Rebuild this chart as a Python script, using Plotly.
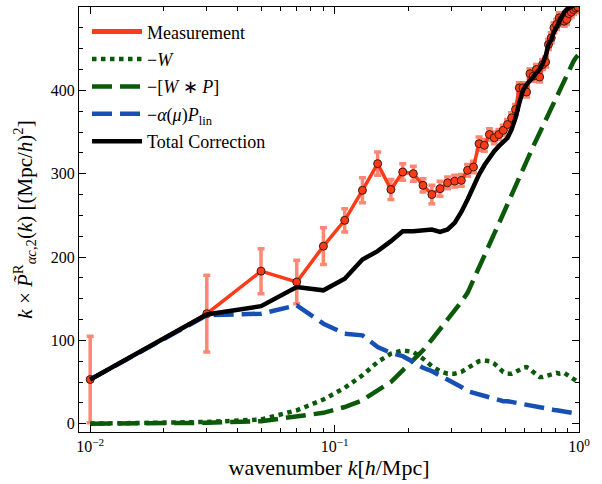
import numpy as np
import plotly.graph_objects as go

# k bins (h/Mpc)
k = [0.01, 0.03, 0.05, 0.07, 0.09, 0.11, 0.13, 0.15, 0.17, 0.19,
     0.21, 0.23, 0.25, 0.27, 0.29, 0.31, 0.33, 0.35, 0.37, 0.39,
     0.41, 0.43, 0.45, 0.47, 0.49, 0.51, 0.53, 0.55, 0.57, 0.59,
     0.61, 0.63, 0.65, 0.67, 0.69, 0.71, 0.73, 0.75, 0.77, 0.79,
     0.81, 0.83, 0.85, 0.87, 0.89, 0.91, 0.93, 0.95, 0.97, 0.99]

# measured k * P(k) and its 1-sigma errors
measurement = [53, 132, 183, 170, 213, 244, 280, 312, 281, 302,
               300, 286, 275, 282, 289, 291, 292, 304, 308, 336,
               334, 347, 343, 347, 352, 359, 367, 377, 403, 403,
               398, 420, 417, 425, 416, 431, 434, 455, 463, 475,
               479, 487, 485, 483, 485, 492, 494, 497, 499, 500]
meas_err = [52, 46, 27, 26, 22, 14, 15, 14, 12, 10,
            9, 8, 11, 9, 7, 7, 7, 7, 7, 8,
            7, 7, 7, 6, 6, 6, 6, 6, 6, 6,
            6, 6, 6, 6, 6, 6, 6, 6, 6, 6,
            6, 6, 6, 6, 6, 6, 6, 6, 6, 6]

# window correction terms
minus_w = [0, 2, 5, 16, 29, 43, 58, 74, 84, 88,
           86, 78, 69, 63, 60, 60, 62, 66, 71, 75,
           76, 75, 72, 67, 62, 60, 60, 62, 65, 67,
           68, 66, 62, 58, 56, 56, 57, 59, 60, 61,
           61, 60, 60, 61, 59, 57, 55, 53, 51, 50]
minus_wp = [0, 1, 3, 8, 13, 20, 28, 40, 50, 64,
            76, 88, 101, 113, 124, 135, 146, 157, 172, 187,
            202, 215, 228, 240, 252, 265, 277, 288, 298, 306,
            315, 324, 333, 341, 349, 357, 364, 372, 380, 387,
            394, 401, 407, 414, 420, 426, 431, 435, 439, 442]
minus_alpha_plin = [53, 130, 132, 142, 120, 108, 106, 92, 85, 81,
                    74, 67, 63, 58, 53, 49, 44, 39, 37, 35,
                    33, 31, 30, 29, 27, 27, 26, 25, 24, 23,
                    22, 21, 21, 20, 19, 18.5, 18, 17.5, 17, 16.5,
                    16, 15.5, 15, 14.5, 14, 13.5, 13, 12.5, 12, 12]
total = [53, 131, 141, 164, 160, 174, 197, 207, 219, 231,
         231, 232, 233, 230, 233, 241, 254, 269, 285, 299,
         310, 320, 327, 333, 338, 343, 353, 367, 385, 400,
         407, 411, 416, 421, 425, 432, 441, 455, 461, 470,
         477, 484, 490, 494, 497, 499, 500, 502, 503, 505]

RED = "#ff3a17"
GREEN = "#0a5a0a"
BLUE = "#1750b4"
FONT = "Liberation Serif"

fig = go.Figure()

# measured points with error bars (legend entry drawn separately as a plain line)
fig.add_trace(go.Scatter(
    x=k, y=measurement, mode="lines+markers", name="Measurement",
    showlegend=False,
    line=dict(color=RED, width=3.5),
    marker=dict(size=8, color=RED, line=dict(color="#3a1a10", width=1)),
    error_y=dict(type="data", array=meas_err, color="rgba(255,105,80,0.8)",
                 thickness=3.5, width=3.5),
))
fig.add_trace(go.Scatter(
    x=[None], y=[None], mode="lines", name="Measurement", legendgroup="a",
    line=dict(color=RED, width=5),
))
fig.add_trace(go.Scatter(
    x=k, y=minus_w, mode="lines", name="−<i>W</i>", legendgroup="b",
    line=dict(color=GREEN, width=4.5, dash="4.5px,4.5px"),
))
fig.add_trace(go.Scatter(
    x=k, y=minus_wp, mode="lines", name="−[<i>W</i> ∗ <i>P</i>]", legendgroup="c",
    line=dict(color=GREEN, width=4.5, dash="20px,8px"),
))
fig.add_trace(go.Scatter(
    x=k, y=minus_alpha_plin, mode="lines",
    name="−<i>α</i>(<i>μ</i>)<i>P</i><sub>lin</sub>", legendgroup="d",
    line=dict(color=BLUE, width=4.5, dash="20px,8px"),
))
fig.add_trace(go.Scatter(
    x=k, y=total, mode="lines", name="Total Correction", legendgroup="e",
    line=dict(color="black", width=4.5),
))

axis_common = dict(
    showline=True, linecolor="black", linewidth=1.2, mirror="allticks",
    ticks="inside", ticklen=7, tickwidth=1, tickcolor="black",
    showgrid=False, zeroline=False,
    tickfont=dict(family=FONT, size=16, color="black"),
)

fig.update_xaxes(
    type="log", range=[np.log10(0.009), 0],
    tickvals=[0.01, 0.1, 1],
    ticktext=["10<sup>−2</sup>", "10<sup>−1</sup>", "10<sup>0</sup>"],
    minor=dict(ticks="inside", ticklen=4, tickcolor="black",
               tickvals=[m * d for d in (0.01, 0.1) for m in range(2, 10)]),
    title=dict(text="wavenumber <i>k</i>[<i>h</i>/Mpc]",
               font=dict(family=FONT, size=22, color="black"), standoff=2),
    **axis_common,
)
fig.update_yaxes(
    range=[-10, 500], dtick=100, tick0=0,
    minor=dict(ticks="inside", ticklen=4, tickcolor="black", dtick=25),
    title=dict(text="<i>k</i> × <i>P̃</i><sup>R</sup><sub><i>αc</i>,2</sub>(<i>k</i>) [(Mpc/<i>h</i>)<sup>2</sup>]",
               font=dict(family=FONT, size=21, color="black"), standoff=12),
    **axis_common,
)

fig.update_layout(
    width=602, height=484,
    margin=dict(l=79, r=23, t=7, b=52),
    paper_bgcolor="white", plot_bgcolor="white",
    showlegend=True,
    legend=dict(x=0.016, y=0.985, xanchor="left", yanchor="top",
                bgcolor="rgba(0,0,0,0)", borderwidth=0,
                font=dict(family=FONT, size=18, color="black"),
                traceorder="grouped", tracegroupgap=1, itemwidth=50),
)

fig.write_html("out.html")
